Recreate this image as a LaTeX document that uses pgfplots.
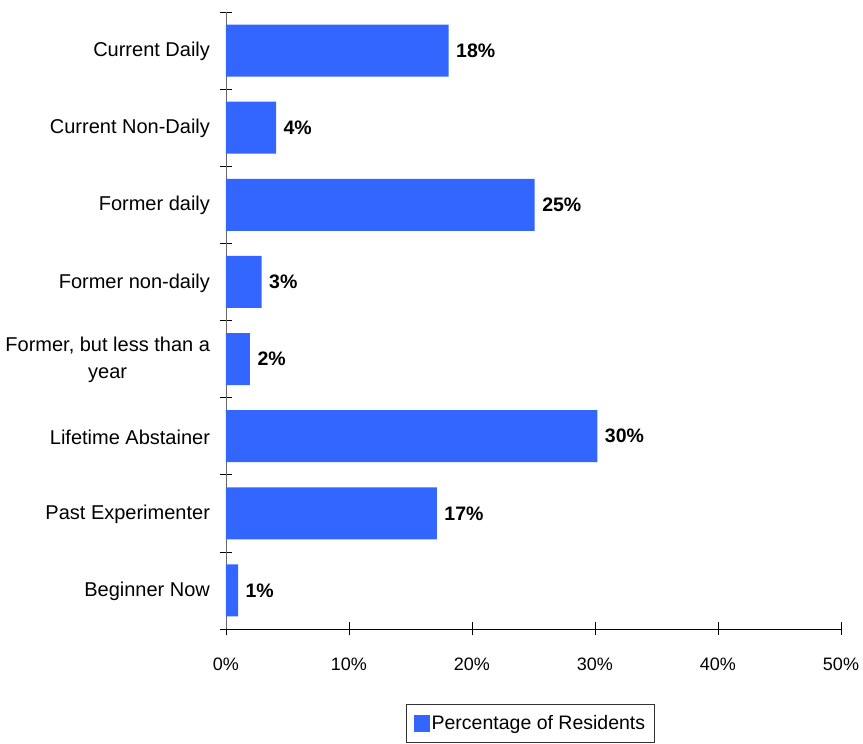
\documentclass[border=0pt]{standalone}
\usepackage{pgfplots}
\pgfplotsset{compat=1.18}
\usepackage{fontspec}
\setmainfont{Liberation Sans}
\definecolor{barblue}{RGB}{51,102,255}
\begin{document}
\begin{tikzpicture}
\begin{axis}[
  at={(0pt,0pt)}, anchor=south west,
  scale only axis,
  width=615pt, height=617pt,
  xbar, bar width=52pt,
  xmin=0, xmax=50,
  ymin=-0.5, ymax=7.5,
  axis x line*=bottom, axis y line*=left,
  axis line style={-, black},
  y axis line style={black!60},
  xtick={0,10,...,50},
  xticklabel={\pgfmathprintnumber{\tick}\%},
  xticklabel style={font=\fontsize{18}{20}\selectfont, yshift=-19pt},
  /pgf/number format/assume math mode=true,
  ytick={0,...,7},
  yticklabels={Beginner Now, Past Experimenter, Lifetime Abstainer, {Former, but less than a\\year}, Former non-daily, Former daily, Current Non-Daily, Current Daily},
  yticklabel style={font=\fontsize{20}{27}\selectfont, align=center, xshift=-6pt, yshift=-1pt},
  major y tick style={draw=none},
  minor ytick={-0.5,0.5,...,7.5},
  minor tick length=12pt,
  major tick length=13pt,
  tick align=center,
  tick style={black, line width=0.6pt},
  nodes near coords={\pgfmathprintnumber[fixed,precision=0]{\pgfplotspointmeta}\%},
  nodes near coords style={font=\bfseries\fontsize{19.5}{22}\selectfont, anchor=west, black, xshift=4pt},
  legend style={at={(0.495,-0.1216)}, anchor=north, draw=black!80, font=\fontsize{19.5}{22}\selectfont, inner xsep=7pt, inner ysep=9pt},
  legend image code/.code={\fill[barblue] (0pt,-8.5pt) rectangle (16pt,8.5pt);},
]
\addplot[fill=barblue, draw=none] coordinates {
  (0.98,0) (17.15,1) (30.2,2) (1.95,3) (2.9,4) (25.1,5) (4.07,6) (18.1,7)
};
\addlegendentry{Percentage of Residents}
\end{axis}
\path (-226pt,-115pt) rectangle (637pt,629pt);
\end{tikzpicture}
\end{document}
